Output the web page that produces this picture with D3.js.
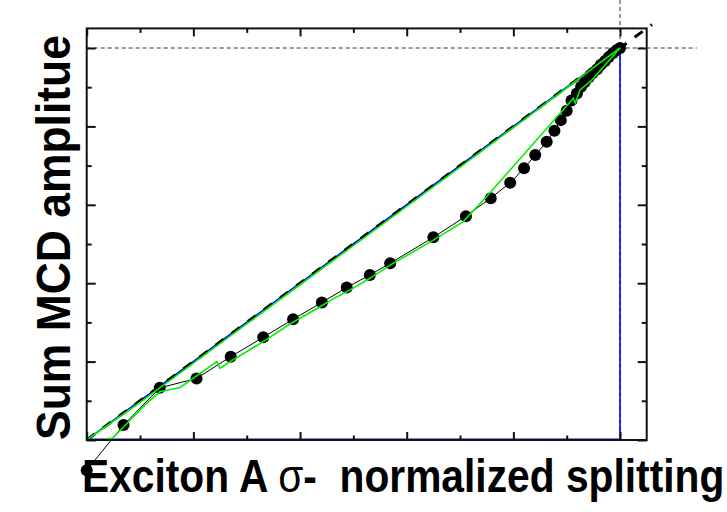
<!DOCTYPE html>
<html>
<head>
<meta charset="utf-8">
<script src="https://cdn.jsdelivr.net/npm/d3@7"></script>
<style>
  html, body { margin: 0; padding: 0; background: #fff; }
  svg { display: block; }
</style>
</head>
<body>
<svg id="chart" width="727" height="512"></svg>
<script>
// ---- data ----
const xDomain = [0, 1.05];
const yDomain = [0, 1.05];
const majorTicks = [0, 0.2, 0.4, 0.6, 0.8, 1.0];
const minorTicks = [0.1, 0.3, 0.5, 0.7, 0.9];

// measured MCD points (black dots)
const dotX = [0.000, 0.069, 0.137, 0.206, 0.270, 0.331, 0.387, 0.441, 0.4875, 0.531, 0.569,
              0.650, 0.711, 0.7575, 0.794, 0.820, 0.841, 0.8625, 0.877, 0.889, 0.900, 0.909,
              0.919, 0.927, 0.934, 0.942, 0.949, 0.957, 0.964, 0.972, 0.979, 0.987, 0.994, 1.000];
const dotY = [-0.077, 0.038, 0.133, 0.157, 0.2125, 0.262, 0.308, 0.351, 0.389, 0.421, 0.451,
              0.517, 0.571, 0.617, 0.656, 0.693, 0.727, 0.761, 0.789, 0.816, 0.840, 0.866,
              0.884, 0.901, 0.913, 0.926, 0.936, 0.946, 0.957, 0.967, 0.977, 0.987, 0.995, 1.000];

// green curve following the dots
const greenLowX = [0.000, 0.025, 0.049, 0.069, 0.1125, 0.1375, 0.175, 0.244, 0.250, 0.269, 0.331,
                   0.381, 0.4375, 0.462, 0.4875, 0.531, 0.569, 0.650, 0.706, 0.750, 0.9125,
                   0.916, 0.925, 0.947, 1.000];
const greenLowY = [0.000, 0.000, 0.005, 0.033, 0.094, 0.123, 0.134, 0.200, 0.183, 0.200, 0.251,
                   0.296, 0.340, 0.360, 0.378, 0.4125, 0.446, 0.510, 0.557, 0.621, 0.872,
                   0.859, 0.893, 0.918, 1.000];

// green curve along the diagonal
const greenDiagX = [0.000, 0.100, 0.200, 0.300, 0.400, 0.500, 0.600, 0.700, 0.800, 0.900, 0.950, 1.000];
const greenDiagY = [0.000, 0.096, 0.196, 0.296, 0.396, 0.496, 0.596, 0.696, 0.797, 0.898, 0.950, 1.000];

// blue curve (diagonal, then down and back along the base)
const blueX = [0.000, 0.250, 0.500, 0.750, 1.000, 1.000, 0.000];
const blueY = [0.000, 0.250, 0.500, 0.750, 1.000, 0.002, 0.002];

// reference lines
const diagX = [0.000, 1.06];
const diagY = [0.000, 1.06];
const refLevel = 1.0;

const xLabel = "Exciton A ";
const xLabelSigma = "σ-";
const xLabelRest = "  normalized splitting";
const yLabel = "Sum MCD amplitue";

// ---- layout ----
const W = 727, H = 512;
const m = { left: 86.7, top: 28.4, right: 80.3, bottom: 72 };
const svg = d3.select("#chart");

const x = d3.scaleLinear().domain(xDomain).range([m.left, W - m.right]);
const y = d3.scaleLinear().domain(yDomain).range([H - m.bottom, m.top]);

const line = d3.line().x(d => x(d[0])).y(d => y(d[1]));
const zipPts = (a, b) => a.map((v, i) => [v, b[i]]);

// reference dotted lines (x=1, y=1), extending beyond the frame
svg.append("line")
  .attr("x1", x(0)).attr("x2", x(0) + 610)
  .attr("y1", y(refLevel)).attr("y2", y(refLevel))
  .attr("stroke", "#333").attr("stroke-width", 1).attr("stroke-dasharray", "4,3");
svg.append("line")
  .attr("x1", x(refLevel)).attr("x2", x(refLevel))
  .attr("y1", 0).attr("y2", y(0))
  .attr("stroke", "#333").attr("stroke-width", 1).attr("stroke-dasharray", "4,3");

// blue curve
svg.append("path").datum(zipPts(blueX, blueY))
  .attr("d", line).attr("fill", "none")
  .attr("stroke", "#0000ff").attr("stroke-width", 1.6);

// thick dashed diagonal
svg.append("path").datum(zipPts(diagX, diagY))
  .attr("d", line).attr("fill", "none")
  .attr("stroke", "#000").attr("stroke-width", 3).attr("stroke-dasharray", "10,10");

// black connecting line + dots
const pts = zipPts(dotX, dotY);
svg.append("path").datum(pts)
  .attr("d", line).attr("fill", "none")
  .attr("stroke", "#000").attr("stroke-width", 1);
svg.append("g").selectAll("circle").data(pts).join("circle")
  .attr("cx", d => x(d[0])).attr("cy", d => y(d[1])).attr("r", 6)
  .attr("fill", "#000");

// green curves
svg.append("path").datum(zipPts(greenDiagX, greenDiagY))
  .attr("d", line).attr("fill", "none")
  .attr("stroke", "#00f000").attr("stroke-width", 1.6);
svg.append("path").datum(zipPts(greenLowX, greenLowY))
  .attr("d", line).attr("fill", "none")
  .attr("stroke", "#00f000").attr("stroke-width", 1.6);

// frame
svg.append("rect")
  .attr("x", x(0)).attr("y", y(yDomain[1]))
  .attr("width", x(xDomain[1]) - x(0)).attr("height", y(0) - y(yDomain[1]))
  .attr("fill", "none").attr("stroke", "#111").attr("stroke-width", 2);

// axes with inward ticks, no labels
function addAxis(axisFn, scale, transform, values, size) {
  const g = svg.append("g").attr("transform", transform)
    .call(axisFn(scale).tickValues(values).tickSize(-size).tickFormat(""));
  g.select(".domain").remove();
  g.selectAll(".tick line").attr("stroke", "#111").attr("stroke-width", 2);
}
const bottomT = `translate(0,${y(0)})`, topT = `translate(0,${y(yDomain[1])})`;
const leftT = `translate(${x(0)},0)`, rightT = `translate(${x(xDomain[1])},0)`;
addAxis(d3.axisBottom, x, bottomT, majorTicks, 8);
addAxis(d3.axisBottom, x, bottomT, minorTicks, 4.5);
addAxis(d3.axisTop, x, topT, majorTicks, 8);
addAxis(d3.axisTop, x, topT, minorTicks, 4.5);
addAxis(d3.axisLeft, y, leftT, majorTicks, 9);
addAxis(d3.axisLeft, y, leftT, minorTicks, 5);
addAxis(d3.axisRight, y, rightT, majorTicks, 9);
addAxis(d3.axisRight, y, rightT, minorTicks, 5);

// axis titles
const xt = svg.append("text")
  .attr("transform", "translate(82,492) scale(0.886,1)")
  .attr("font-family", "'Liberation Sans', Arial, sans-serif")
  .attr("font-weight", "bold").attr("font-size", 46).attr("fill", "#000")
  .attr("xml:space", "preserve").style("white-space", "pre");
xt.append("tspan").text(xLabel);
xt.append("tspan").attr("font-weight", "normal").text(xLabelSigma.slice(0, 1));
xt.append("tspan").text(xLabelSigma.slice(1) + xLabelRest);

svg.append("text")
  .attr("transform", "translate(70,237.5) rotate(-90) scale(0.926,1)")
  .attr("text-anchor", "middle")
  .attr("font-family", "'Liberation Sans', Arial, sans-serif")
  .attr("font-weight", "bold").attr("font-size", 48).attr("fill", "#000")
  .text(yLabel);
</script>
</body>
</html>
